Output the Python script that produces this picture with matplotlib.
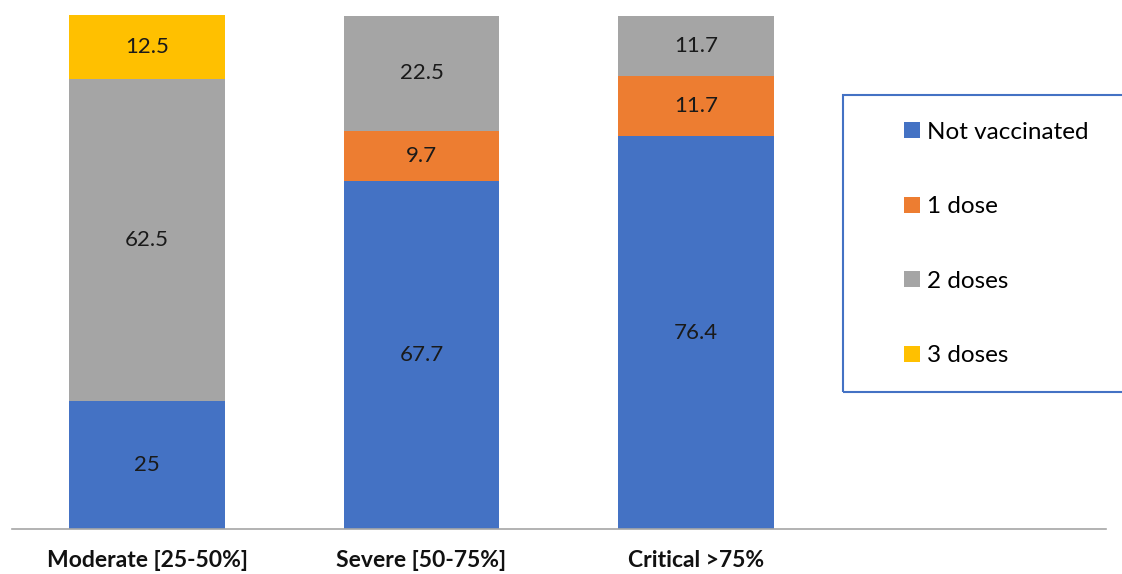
import matplotlib
matplotlib.use("Agg")
import matplotlib.pyplot as plt
from matplotlib.patches import Rectangle
import numpy as np

categories = ["Moderate [25-50%]", "Severe [50-75%]", "Critical >75%"]
series_names = ["Not vaccinated", "1 dose", "2 doses", "3 doses"]
not_vaccinated = [25, 67.7, 76.4]
one_dose = [0, 9.7, 11.7]
two_doses = [62.5, 22.5, 11.7]
three_doses = [12.5, 0, 0]
colors = ["#4472C4", "#ED7D31", "#A5A5A5", "#FFC000"]

plt.rcParams['font.family'] = ['Lato', 'DejaVu Sans']

fig = plt.figure(figsize=(11.22, 5.74), dpi=100)
ax = fig.add_axes([12/1122, 1 - 529/574, (1106 - 12)/1122, (529 - 15)/574])

x = np.arange(len(categories))
width = 0.568
bottom = np.zeros(len(categories))
handles = []
for name, vals, c in zip(series_names, [not_vaccinated, one_dose, two_doses, three_doses], colors):
    vals = np.array(vals, dtype=float)
    bars = ax.bar(x, vals, width, bottom=bottom, color=c, label=name, zorder=2)
    handles.append(bars)
    for xi, v, b in zip(x, vals, bottom):
        if v > 0:
            ax.text(xi, b + v / 2, f"{v:g}", ha="center", va="center",
                    fontsize=16, color="#1a1a1a")
    bottom += vals

ax.set_xlim(-0.492, 3.494)
ax.set_ylim(0, 100)
ax.set_xticks(x)
ax.set_xticklabels(categories, fontsize=16.5, fontweight="bold", color="#111111")
ax.tick_params(axis="x", length=0, pad=15)
ax.set_yticks([])
for s in ["top", "right", "left"]:
    ax.spines[s].set_visible(False)
ax.spines["bottom"].set_color("#A6A6A6")
ax.spines["bottom"].set_linewidth(1.2)

# legend box
fig.patches.append(Rectangle((843/1122, 1 - 392/574), (1130 - 843)/1122, (392 - 95)/574,
                             transform=fig.transFigure, fill=False,
                             edgecolor="#4472C4", linewidth=1.5))
leg = fig.legend(handles=handles, labels=series_names, loc="center left",
                 bbox_to_anchor=(892/1122, 1 - 244/574), frameon=False,
                 fontsize=17.5, handlelength=0.65, handleheight=0.65,
                 handletextpad=0.3, labelspacing=2.2, borderpad=0)

fig.savefig("out.png", dpi=100)
